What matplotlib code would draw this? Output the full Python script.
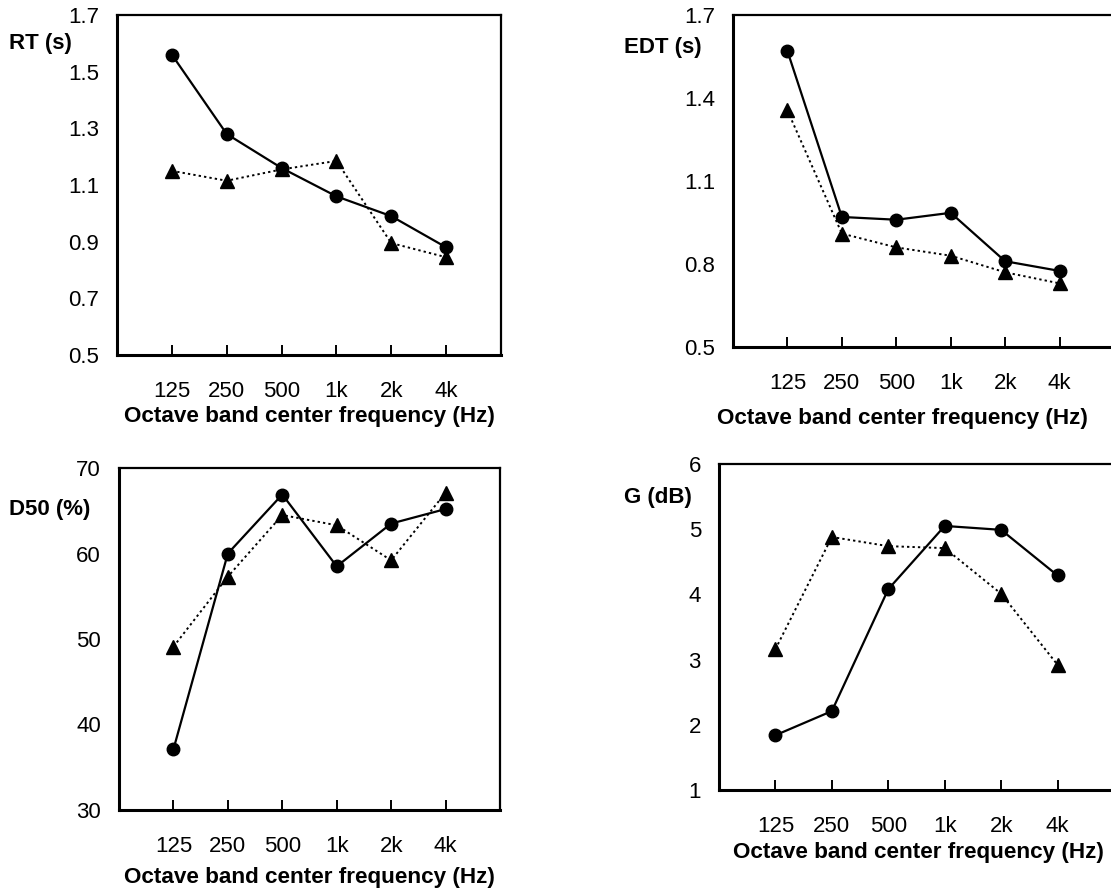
import matplotlib
matplotlib.use("Agg")
import matplotlib.pyplot as plt

plt.rcParams["font.family"] = ["Liberation Sans", "DejaVu Sans"]

bands = ["125", "250", "500", "1k", "2k", "4k"]
positions = [1, 2, 3, 4, 5, 6]

rt_circle = [1.56, 1.28, 1.16, 1.06, 0.99, 0.88]
rt_triangle = [1.15, 1.115, 1.155, 1.185, 0.895, 0.845]

edt_circle = [1.57, 0.97, 0.96, 0.985, 0.81, 0.775]
edt_triangle = [1.355, 0.91, 0.86, 0.83, 0.77, 0.73]

d50_circle = [37.1, 60.0, 66.9, 58.5, 63.5, 65.2]
d50_triangle = [49.1, 57.3, 64.5, 63.3, 59.2, 67.1]

g_circle = [1.84, 2.21, 4.08, 5.05, 4.99, 4.29]
g_triangle = [3.16, 4.88, 4.74, 4.71, 4.01, 2.92]

W, H = 1111, 890
fig = plt.figure(figsize=(W / 100, H / 100), dpi=100)


def px_axes(left, top, right, bottom):
    return fig.add_axes([left / W, 1 - bottom / H, (right - left) / W, (bottom - top) / H])


def panel(ax, circ, tri, ylim, yticks, ylabel, label_xy, xlabel_pos):
    ax.plot(positions, tri, color="black", lw=1.4, linestyle=(0, (1.2, 1.6)),
            marker="^", ms=10, mfc="black", mec="black", zorder=2)
    ax.plot(positions, circ, color="black", lw=1.6, linestyle="-",
            marker="o", ms=9, mfc="black", mec="black", zorder=3)
    ax.set_xlim(0, 7)
    ax.set_ylim(*ylim)
    ax.set_xticks(positions)
    ax.set_xticklabels(bands)
    ax.set_yticks(yticks)
    ax.set_yticklabels([f"{v:g}" for v in yticks])
    ax.tick_params(axis="x", direction="in", length=7, width=1.4, pad=19, labelsize=16)
    ax.tick_params(axis="y", length=0, pad=13, labelsize=16)
    for side in ("left", "bottom"):
        ax.spines[side].set_linewidth(2.2)
    for side in ("top", "right"):
        ax.spines[side].set_linewidth(1.6)
    ax.set_xlabel("Octave band center frequency (Hz)", fontsize=16.2, fontweight="bold")
    ax.xaxis.set_label_coords(*xlabel_pos)
    fig.text(label_xy[0] / W, 1 - label_xy[1] / H, ylabel, fontsize=16, fontweight="bold",
             ha="left", va="center")


ax1 = px_axes(117, 15, 501, 355)
panel(ax1, rt_circle, rt_triangle, (0.5, 1.7), [0.5, 0.7, 0.9, 1.1, 1.3, 1.5, 1.7],
      "RT (s)", (9, 43), (0.5, -0.15))

ax2 = px_axes(733, 15, 1114, 347)
panel(ax2, edt_circle, edt_triangle, (0.5, 1.7), [0.5, 0.8, 1.1, 1.4, 1.7],
      "EDT (s)", (624, 47), (0.446, -0.185))

ax3 = px_axes(119, 468, 500, 810)
panel(ax3, d50_circle, d50_triangle, (30, 70), [30, 40, 50, 60, 70],
      "D50 (%)", (9, 509), (0.5, -0.167))

ax4 = px_axes(719, 464, 1114, 790)
panel(ax4, g_circle, g_triangle, (1, 6), [1, 2, 3, 4, 5, 6],
      "G (dB)", (624, 497), (0.504, -0.16))

fig.savefig("out.png", dpi=100)
